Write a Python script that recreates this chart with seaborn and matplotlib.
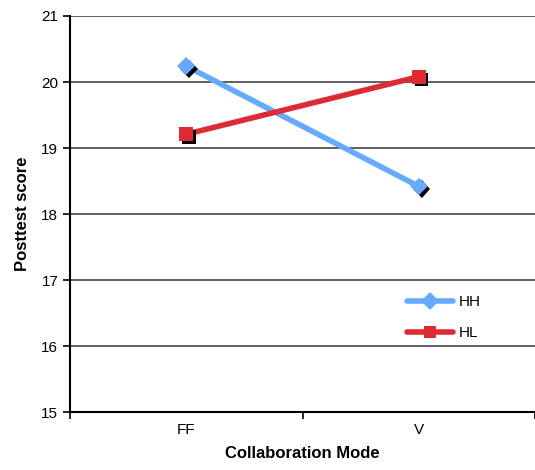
import pandas as pd
import matplotlib
matplotlib.use('Agg')
import matplotlib.pyplot as plt
import matplotlib.patheffects as pe
from matplotlib.lines import Line2D
import seaborn as sns

# data
modes = ['FF', 'V']
hh = [20.24, 18.42]
hl = [19.21, 20.08]

df = pd.DataFrame({'mode': modes * 2,
                   'x': [0, 1, 0, 1],
                   'score': hh + hl,
                   'group': ['HH', 'HH', 'HL', 'HL']})

sns.set_style('white')
plt.rcParams['font.family'] = ['Liberation Sans', 'DejaVu Sans']
plt.rcParams['text.color'] = 'black'
plt.rcParams['axes.labelcolor'] = 'black'
plt.rcParams['xtick.color'] = 'black'
plt.rcParams['ytick.color'] = 'black'

fig = plt.figure(figsize=(5.35, 4.7), dpi=100)
ax = fig.add_axes([0.131, 0.123, 0.869, 0.843])

palette = {'HH': '#66AAFF', 'HL': '#DD2A33'}
markers = {'HH': 'D', 'HL': 's'}

# lines only
sns.lineplot(data=df, x='x', y='score', hue='group', palette=palette,
             lw=4, ax=ax, legend=False)

# markers with black drop shadow
for g in ['HH', 'HL']:
    sub = df[df['group'] == g]
    ax.plot(sub['x'], sub['score'], linestyle='none', marker=markers[g],
            markersize=10 if g == 'HL' else 9, markeredgewidth=0, color=palette[g],
            path_effects=[pe.SimplePatchShadow(offset=(2, -2), shadow_rgbFace='black', alpha=1), pe.Normal()],
            zorder=5)

ax.set_ylim(15, 21)
ax.set_xlim(-0.5, 1.5)
ax.set_yticks(range(15, 22))
ax.yaxis.grid(True, color='#444444', lw=1.2)
ax.set_axisbelow(True)

ax.set_xticks([-0.5, 0.5, 1.5])
ax.set_xticklabels([])
ax.set_xticks([0, 1], minor=True)
ax.set_xticklabels(modes, minor=True)
ax.tick_params(axis='x', which='minor', length=0, pad=8, labelsize=11)
ax.tick_params(axis='x', which='major', length=5, width=1.2, direction='out', bottom=True)
ax.tick_params(axis='y', length=5, width=1.2, direction='out', left=True, labelsize=11)

for s in ['top', 'right']:
    ax.spines[s].set_visible(False)
for s in ['left', 'bottom']:
    ax.spines[s].set_color('black')
    ax.spines[s].set_linewidth(1.5)

ax.set_xlabel('Collaboration Mode', fontsize=12, fontweight='bold', labelpad=6)
ax.set_ylabel('Posttest score', fontsize=12, fontweight='bold', labelpad=8)

handles = [Line2D([], [], color=palette[g], lw=4, marker=markers[g], markersize=9, markeredgewidth=0)
           for g in ['HH', 'HL']]
ax.legend(handles, ['HH', 'HL'], loc='center left', bbox_to_anchor=(0.695, 0.238),
          frameon=False, fontsize=11, handlelength=3, handletextpad=0.4, labelspacing=1.1)

fig.savefig('out.png', dpi=100)
